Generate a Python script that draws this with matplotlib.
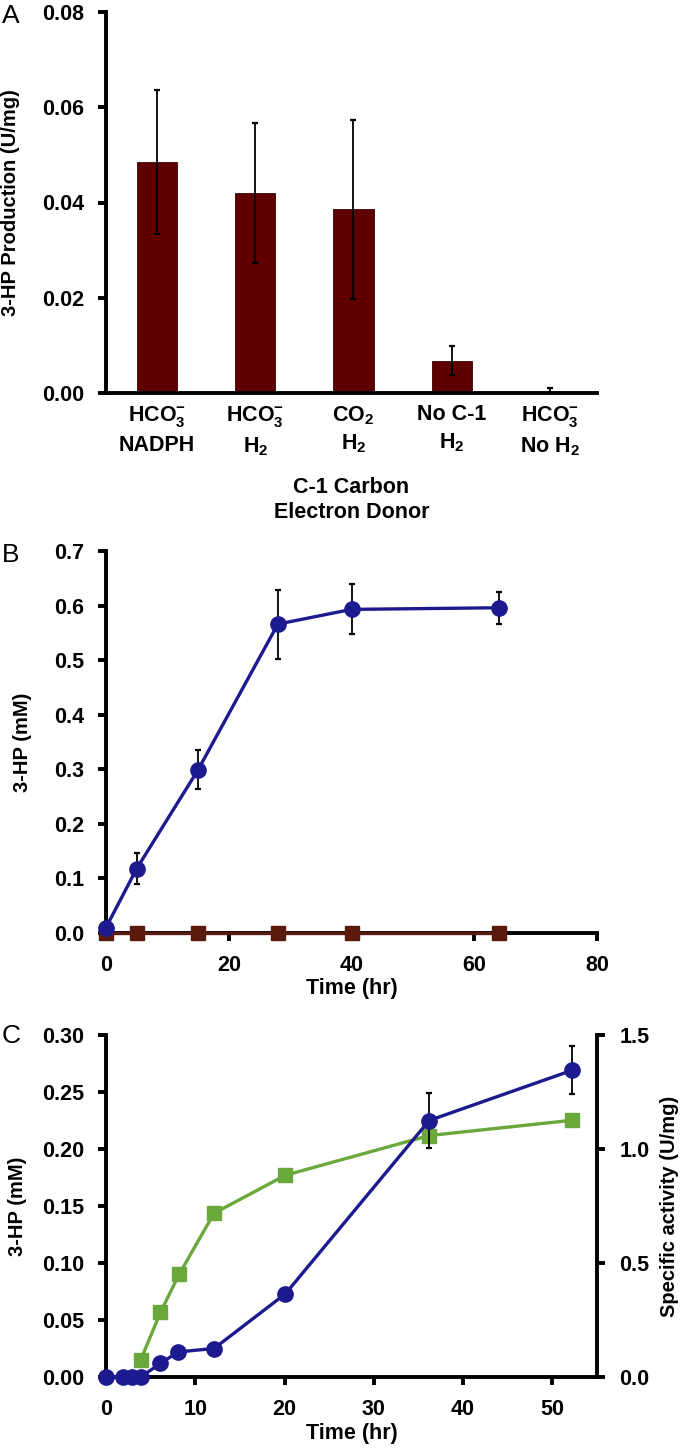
import numpy as np
import matplotlib
matplotlib.use("Agg")
import matplotlib.pyplot as plt

# --- data ---
# panel A
cats = ["HCO$_3^{-}$\nNADPH", "HCO$_3^{-}$\nH$_2$", "CO$_2$\nH$_2$",
        "No C-1\nH$_2$", "HCO$_3^{-}$\nNo H$_2$"]
prod = [0.0485, 0.0420, 0.0386, 0.0068, 0.0]
prod_err = [0.0151, 0.0146, 0.0188, 0.0031, 0.0010]

# panel B
time_b = [0, 5, 15, 28, 40, 64]
hp_b = [0.010, 0.118, 0.299, 0.566, 0.593, 0.596]
hp_b_err = [0.0, 0.029, 0.036, 0.063, 0.046, 0.029]
ctrl_b = [0, 0, 0, 0, 0, 0]

# panel C
time_c = [0, 1.9, 2.9, 3.9, 6.1, 8.1, 12.1, 20.1, 36.2, 52.2]
hp_c = [0, 0, 0, 0, 0.012, 0.022, 0.025, 0.073, 0.225, 0.269]
hp_c_err = [0, 0, 0, 0, 0, 0, 0.005, 0, 0.024, 0.021]
time_act = [3.9, 6.1, 8.2, 12.1, 20.1, 36.2, 52.2]
activity = [0.076, 0.284, 0.451, 0.718, 0.885, 1.059, 1.126]

BAR = "#5e0000"
BLUE = "#1c1a8e"
GREEN = "#6aa83c"
BROWN = "#5a1a0c"

plt.rcParams["font.family"] = ["Liberation Sans", "DejaVu Sans"]
plt.rcParams["font.weight"] = "bold"
plt.rcParams["axes.labelweight"] = "bold"
plt.rcParams["mathtext.fontset"] = "custom"
plt.rcParams["mathtext.rm"] = "Liberation Sans:bold"
plt.rcParams["mathtext.it"] = "Liberation Sans:bold"
plt.rcParams["mathtext.bf"] = "Liberation Sans:bold"
plt.rcParams["mathtext.default"] = "rm"

TICK_FS = 15.5
LAB_FS = 14.5
LW = 2.8

fig = plt.figure(figsize=(6.81, 14.48), dpi=100)
L, W = 106 / 681, 491 / 681


def style(ax):
    for s in ["top", "right"]:
        ax.spines[s].set_visible(False)
    ax.spines["left"].set_linewidth(LW)
    ax.spines["bottom"].set_linewidth(LW)
    ax.tick_params(width=LW, length=6, labelsize=TICK_FS, direction="out", pad=10)


def panel_label(txt, y):
    fig.text(0.003, 1 - y / 1448, txt, fontsize=19, weight="normal", va="center", ha="left")


# ---- A ----
axA = fig.add_axes([L, 1 - 393 / 1448, W, 381 / 1448])
x = np.arange(len(cats))
axA.bar(x, prod, width=0.41, color=BAR, edgecolor="#3a0000", linewidth=0.6)
axA.errorbar(x, prod, yerr=prod_err, fmt="none", ecolor="black", elinewidth=1.3, capsize=2, capthick=1.6)
axA.set_xlim(-0.52, 4.48)
axA.set_ylim(0, 0.08)
axA.set_yticks([0, 0.02, 0.04, 0.06, 0.08])
axA.set_yticklabels(["0.00", "0.02", "0.04", "0.06", "0.08"])
axA.set_xticks(x)
axA.set_xticklabels(cats, linespacing=1.35)
style(axA)
axA.tick_params(axis="x", length=0, pad=8)
axA.set_ylabel("3-HP Production (U/mg)", fontsize=LAB_FS)
axA.yaxis.set_label_coords(-0.175, 0.5)
axA.set_xlabel("C-1 Carbon\nElectron Donor", fontsize=TICK_FS, linespacing=1.3, va="center")
axA.xaxis.set_label_coords(0.5, -0.281)
panel_label("A", 16)

# ---- B ----
axB = fig.add_axes([L, 1 - 933 / 1448, W, 382 / 1448])
axB.plot(time_b, ctrl_b, color=BROWN, lw=2.4, marker="s", ms=10, clip_on=False, zorder=3)
axB.errorbar(time_b, hp_b, yerr=hp_b_err, color=BLUE, lw=2.4, marker="o", ms=11,
             ecolor="black", elinewidth=1.3, capsize=2, capthick=1.6, clip_on=False, zorder=4)
axB.set_xlim(0, 80)
axB.set_ylim(0, 0.7)
axB.set_xticks([0, 20, 40, 60, 80])
axB.set_yticks(np.arange(0, 0.71, 0.1))
axB.set_yticklabels(["0.0", "0.1", "0.2", "0.3", "0.4", "0.5", "0.6", "0.7"])
style(axB)
axB.set_ylabel("3-HP (mM)", fontsize=LAB_FS)
axB.yaxis.set_label_coords(-0.151, 0.5)
axB.set_xlabel("Time (hr)", fontsize=TICK_FS, va="center")
axB.xaxis.set_label_coords(0.5, -0.144)
panel_label("B", 555)

# ---- C ----
axC = fig.add_axes([L, 1 - 1377 / 1448, W, 342 / 1448])
axC2 = axC.twinx()
axC.errorbar(time_c, hp_c, yerr=hp_c_err, color=BLUE, lw=2.4, marker="o", ms=11,
             ecolor="black", elinewidth=1.3, capsize=2, capthick=1.6, clip_on=False, zorder=4)
axC2.plot(time_act, activity, color=GREEN, lw=2.4, marker="s", ms=10, clip_on=False, zorder=3)
axC.set_zorder(axC2.get_zorder() + 1)
axC.patch.set_visible(False)
axC.set_xlim(0, 55)
axC.set_ylim(0, 0.30)
axC2.set_ylim(0, 1.5)
axC.set_xticks([0, 10, 20, 30, 40, 50])
axC.set_yticks(np.arange(0, 0.301, 0.05))
axC.set_yticklabels(["0.00", "0.05", "0.10", "0.15", "0.20", "0.25", "0.30"])
axC2.set_yticks([0, 0.5, 1.0, 1.5])
axC2.set_yticklabels(["0.0", "0.5", "1.0", "1.5"])
style(axC)
for s in ["top", "left", "bottom"]:
    axC2.spines[s].set_visible(False)
axC2.spines["right"].set_linewidth(LW)
axC2.tick_params(width=LW, length=6, labelsize=TICK_FS, direction="out", pad=10)
axC.set_ylabel("3-HP (mM)", fontsize=LAB_FS)
axC.yaxis.set_label_coords(-0.161, 0.5)
axC2.set_ylabel("Specific activity (U/mg)", fontsize=LAB_FS, rotation=90)
axC2.yaxis.set_label_coords(1.128, 0.5)
axC.set_xlabel("Time (hr)", fontsize=TICK_FS, va="center")
axC.xaxis.set_label_coords(0.5, -0.164)
panel_label("C", 1036)

fig.savefig("out.png", dpi=100)
